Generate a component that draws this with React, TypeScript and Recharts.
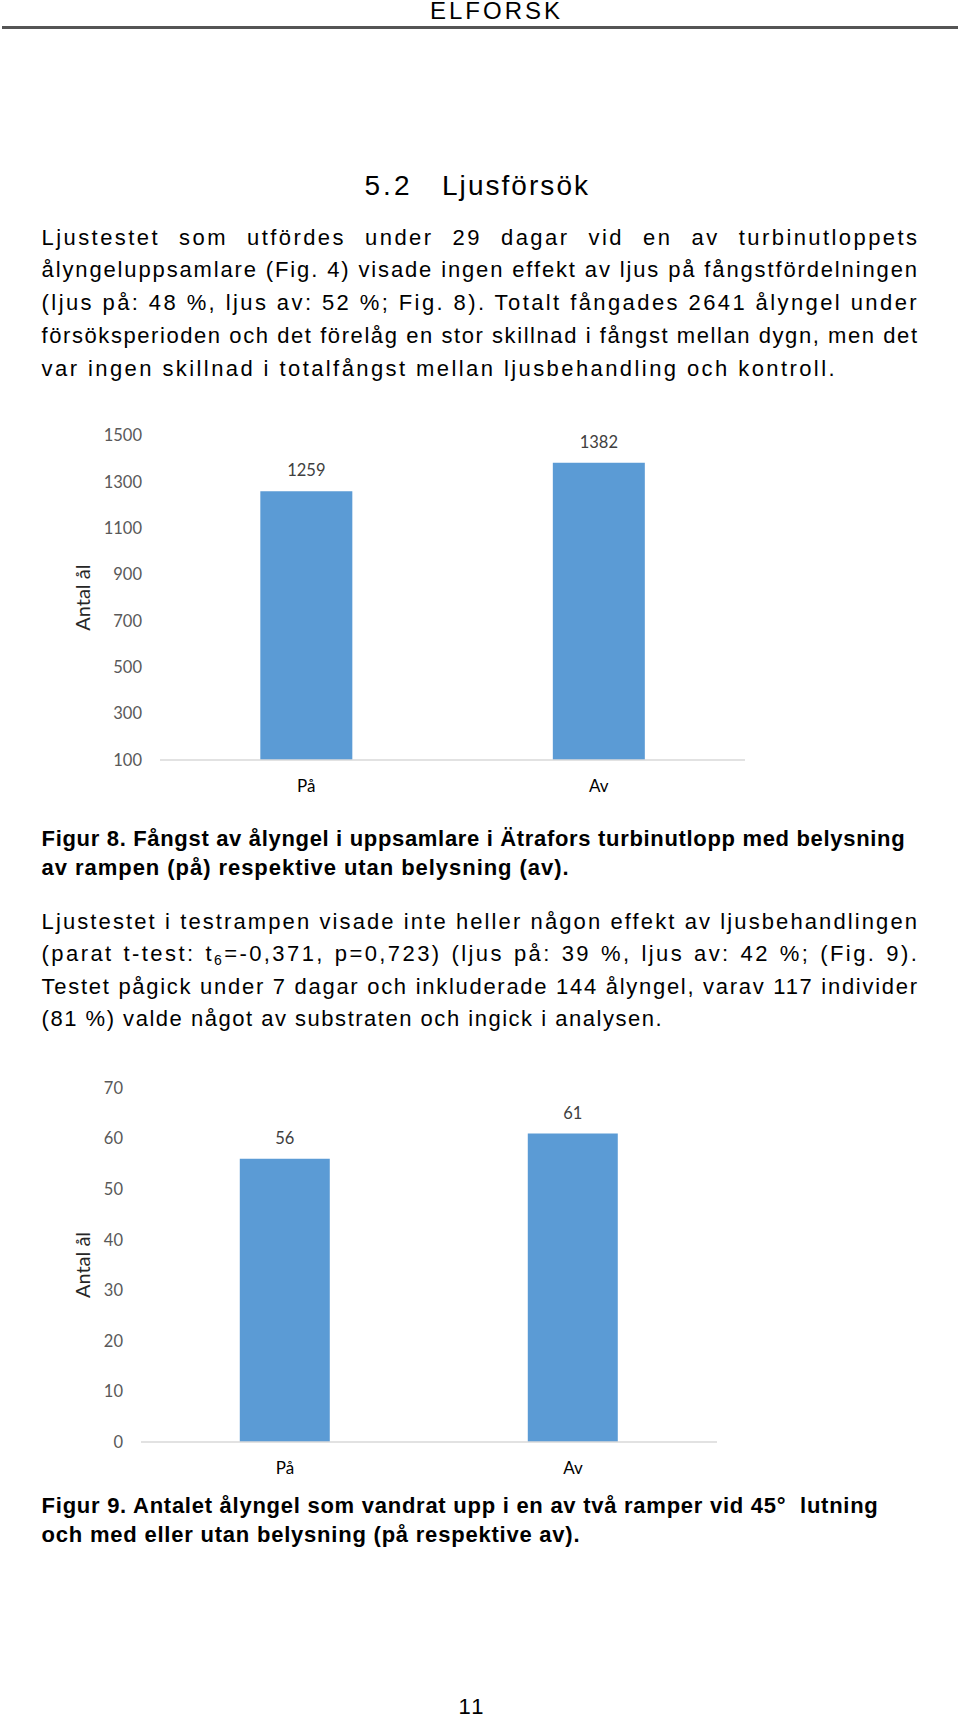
import React from "react";
import { BarChart, Bar, XAxis, YAxis, LabelList, Label } from "recharts";

// chart data
const categories = ["På", "Av"];
const fig8Values = [1259, 1382];
const fig8Ticks = [100, 300, 500, 700, 900, 1100, 1300, 1500];
const fig9Values = [56, 61];
const fig9Ticks = [0, 10, 20, 30, 40, 50, 60, 70];

const fig8Data = categories.map((name, i) => ({ name, value: fig8Values[i] }));
const fig9Data = categories.map((name, i) => ({ name, value: fig9Values[i] }));

const bodyFont = '"Liberation Sans", Arial, sans-serif';
const chartFont = "Lato, 'Open Sans', sans-serif";
const BAR_COLOR = "#5b9bd5";

const TEXT_LEFT = 41.6;
const TEXT_WIDTH = 875.4;
const FS = 22;

// measure text so the letter spacing can be fitted to the page widths
const ctx = document.createElement("canvas").getContext("2d")!;
const measure = (text: string, size: number, bold = false) => {
  ctx.font = `${bold ? "bold " : ""}${size}px "Liberation Sans"`;
  return ctx.measureText(text).width;
};
const fitLs = (text: string, target: number, size: number, bold = false) =>
  (target - measure(text, size, bold)) / Math.max(1, text.length - 1);

// spacing taken from the last line of the first paragraph
const BASE_LS = fitLs(
  "var ingen skillnad i totalfångst mellan ljusbehandling och kontroll.",
  793,
  FS
);

type LineProps = {
  y: number;
  text: string;
  target?: number;
  justify?: boolean;
  bold?: boolean;
  render?: React.ReactNode[];
};

const Line = ({ y, text, target, justify = false, bold = false, render }: LineProps) => {
  let ls = BASE_LS;
  let spread = false;
  if (justify) {
    const natural = measure(text, FS, bold) + (text.length - 1) * BASE_LS;
    if (natural <= TEXT_WIDTH) spread = true;
    else ls = fitLs(text, TEXT_WIDTH, FS, bold);
  } else if (target) {
    ls = fitLs(text, target, FS, bold);
  }
  const words = render || text.split(" ");
  return (
    <div
      style={{
        position: "absolute",
        left: TEXT_LEFT,
        top: y - 13,
        width: justify ? TEXT_WIDTH + ls : undefined,
        height: 26,
        lineHeight: "26px",
        display: "flex",
        justifyContent: spread ? "space-between" : "flex-start",
        whiteSpace: "pre",
        fontFamily: bodyFont,
        fontSize: FS,
        fontWeight: bold ? 700 : 400,
        letterSpacing: ls,
        color: "#000",
      }}
    >
      {spread
        ? words.map((p, i) => <span key={i}>{p}</span>)
        : render
        ? words.map((p, i) => (
            <span key={i}>
              {p}
              {i < words.length - 1 ? " " : ""}
            </span>
          ))
        : text}
    </div>
  );
};

const yLabel = (props: any) => {
  const vb = props.viewBox || {};
  const cy = vb.y + vb.height / 2;
  return (
    <text
      x={82}
      y={cy}
      transform={`rotate(-90 82 ${cy})`}
      textAnchor="middle"
      dominantBaseline="central"
      fontFamily={chartFont}
      fontSize={20}
      fill="#262626"
    >
      Antal ål
    </text>
  );
};

const Chart = ({
  data,
  ticks,
  domain,
  top,
  height,
  margin,
  yWidth,
}: {
  data: { name: string; value: number }[];
  ticks: number[];
  domain: [number, number];
  top: number;
  height: number;
  margin: { top: number; right: number; bottom: number; left: number };
  yWidth: number;
}) => (
  <div style={{ position: "absolute", left: 0, top }}>
    <BarChart width={800} height={height} data={data} margin={margin} barCategoryGap="34.3%">
      <XAxis
        dataKey="name"
        axisLine={{ stroke: "#d9d9d9", strokeWidth: 1.5 }}
        tickLine={false}
        tickSize={0}
        tickMargin={20}
        height={40}
        tick={{ fill: "#000", fontSize: 17, fontFamily: chartFont }}
      />
      <YAxis
        type="number"
        domain={domain}
        ticks={ticks}
        width={yWidth}
        axisLine={false}
        tickLine={false}
        tickSize={0}
        tickMargin={18}
        tick={{ fill: "#595959", fontSize: 16.5, fontFamily: chartFont }}
        label={<Label content={yLabel} />}
      />
      <Bar dataKey="value" fill={BAR_COLOR} isAnimationActive={false}>
        <LabelList
          dataKey="value"
          position="top"
          offset={15}
          fill="#404040"
          fontSize={16.5}
          fontFamily={chartFont}
        />
      </Bar>
    </BarChart>
  </div>
);

const p2line2 = "(parat t-test: t6=-0,371, p=0,723) (ljus på: 39 %, ljus av: 42 %; (Fig. 9).";

const App = () => (
  <div
    style={{
      position: "absolute",
      left: 0,
      top: 0,
      width: 960,
      height: 1717,
      background: "#fff",
      overflow: "hidden",
    }}
  >
    {/* header */}
    <div
      style={{
        position: "absolute",
        left: 430,
        top: 0,
        fontFamily: bodyFont,
        fontSize: 24,
        letterSpacing: fitLs("ELFORSK", 130, 24),
        lineHeight: "22px",
      }}
    >
      ELFORSK
    </div>
    <div style={{ position: "absolute", left: 2, top: 26, width: 956, height: 2.5, background: "#555" }} />

    {/* heading */}
    <div
      style={{
        position: "absolute",
        left: 364.5,
        top: 169,
        fontFamily: bodyFont,
        fontSize: 28,
        lineHeight: "34px",
        letterSpacing: fitLs("5.2", 45, 28),
      }}
    >
      5.2
    </div>
    <div
      style={{
        position: "absolute",
        left: 442,
        top: 169,
        fontFamily: bodyFont,
        fontSize: 28,
        lineHeight: "34px",
        letterSpacing: fitLs("Ljusförsök", 146, 28),
      }}
    >
      Ljusförsök
    </div>

    <Line y={237.5} justify text="Ljustestet som utfördes under 29 dagar vid en av turbinutloppets" />
    <Line y={270.4} justify text="ålyngeluppsamlare (Fig. 4) visade ingen effekt av ljus på fångstfördelningen" />
    <Line y={303.2} justify text="(ljus på: 48 %, ljus av: 52 %; Fig. 8). Totalt fångades 2641 ålyngel under" />
    <Line y={336} justify text="försöksperioden och det förelåg en stor skillnad i fångst mellan dygn, men det" />
    <Line y={368.9} text="var ingen skillnad i totalfångst mellan ljusbehandling och kontroll." target={793} />

    <Chart
      data={fig8Data}
      ticks={fig8Ticks}
      domain={[100, 1500]}
      top={400}
      height={420}
      margin={{ top: 35.4, right: 55, bottom: 20, left: 0 }}
      yWidth={160}
    />

    <Line y={838.5} bold target={863} text="Figur 8. Fångst av ålyngel i uppsamlare i Ätrafors turbinutlopp med belysning" />
    <Line y={868} bold target={527} text="av rampen (på) respektive utan belysning (av)." />

    <Line y={922} justify text="Ljustestet i testrampen visade inte heller någon effekt av ljusbehandlingen" />
    <Line
      y={954}
      justify
      text={p2line2}
      render={[
        "(parat",
        "t-test:",
        <>
          t<span style={{ fontSize: 14, position: "relative", top: 4 }}>6</span>=-0,371,
        </>,
        "p=0,723)",
        "(ljus",
        "på:",
        "39",
        "%,",
        "ljus",
        "av:",
        "42",
        "%;",
        "(Fig.",
        "9).",
      ]}
    />
    <Line y={986.5} justify text="Testet pågick under 7 dagar och inkluderade 144 ålyngel, varav 117 individer" />
    <Line y={1019} target={620} text="(81 %) valde något av substraten och ingick i analysen." />

    <Chart
      data={fig9Data}
      ticks={fig9Ticks}
      domain={[0, 70]}
      top={1050}
      height={460}
      margin={{ top: 38, right: 83, bottom: 28, left: 0 }}
      yWidth={141}
    />

    <Line y={1506} bold target={837} text="Figur 9. Antalet ålyngel som vandrat upp i en av två ramper vid 45°  lutning" />
    <Line y={1534.6} bold target={538} text="och med eller utan belysning (på respektive av)." />

    <div
      style={{
        position: "absolute",
        left: 0,
        width: 944,
        top: 1697,
        textAlign: "center",
        fontFamily: bodyFont,
        fontSize: 22,
        letterSpacing: 2,
        lineHeight: "20px",
      }}
    >
      11
    </div>
  </div>
);

export default App;
